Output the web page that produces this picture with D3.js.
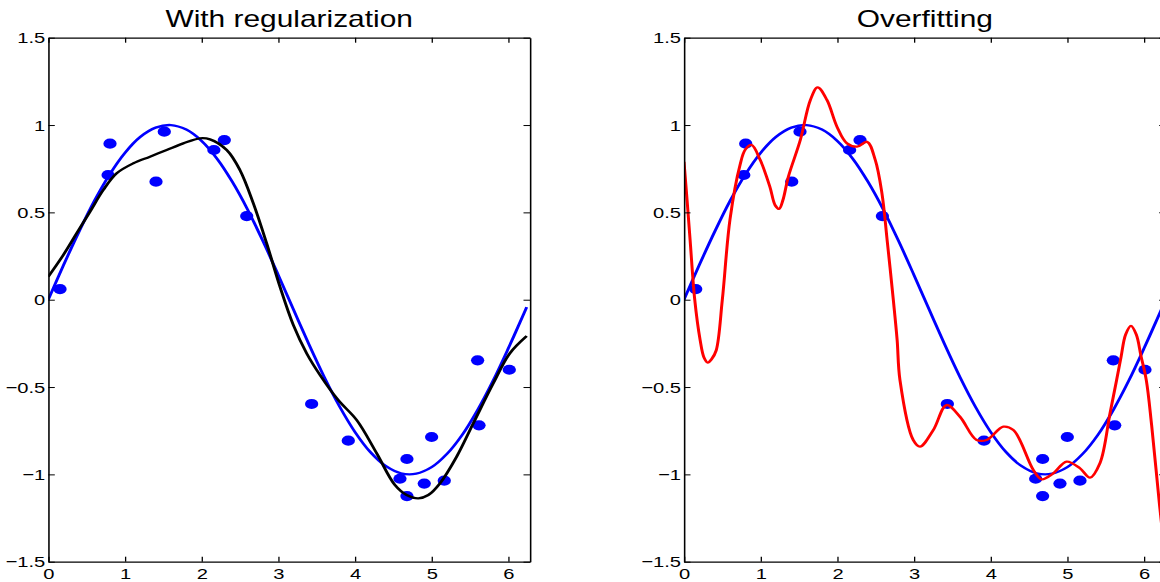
<!DOCTYPE html>
<html>
<head>
<meta charset="utf-8">
<script src="https://cdn.jsdelivr.net/npm/d3@7"></script>
<style>
  html, body { margin: 0; padding: 0; background: #fff; }
  svg { display: block; }
</style>
</head>
<body>
<svg id="chart" width="1160" height="582"></svg>
<script>
// ---------- data ----------
const xTicks = [0, 1, 2, 3, 4, 5, 6];
const xTickLabels = ["0", "1", "2", "3", "4", "5", "6"];
const yTicks = [-1.5, -1, -0.5, 0, 0.5, 1, 1.5];
const yTickLabels = ["\u22121.5", "\u22121", "\u22120.5", "0", "0.5", "1", "1.5"];
const titles = ["With regularization", "Overfitting"];

// noisy samples (blue dots)
const sampleX = [0.153, 0.78, 0.805, 1.405, 1.513, 2.16, 2.296, 2.588, 3.435, 3.913,
                 4.587, 4.678, 4.678, 4.904, 5.0, 5.165, 5.60, 5.618, 6.013];
const sampleY = [0.061, 0.714, 0.893, 0.676, 0.962, 0.857, 0.914, 0.479, -0.597, -0.807,
                 -1.025, -0.912, -1.124, -1.053, -0.786, -1.036, -0.347, -0.719, -0.401];

// true curve (blue line)
const trueX = [0, 0.2, 0.4, 0.6, 0.8, 1.0, 1.2, 1.4, 1.6, 1.8, 2.0, 2.2, 2.4, 2.6, 2.8, 3.0,
               3.2, 3.4, 3.6, 3.8, 4.0, 4.2, 4.4, 4.6, 4.8, 5.0, 5.2, 5.4, 5.6, 5.8, 6.0, 6.2, 6.24];
const trueY = [0, 0.199, 0.389, 0.565, 0.717, 0.841, 0.932, 0.985, 1.0, 0.974, 0.909, 0.808,
               0.675, 0.516, 0.335, 0.141, -0.058, -0.256, -0.443, -0.612, -0.757, -0.872,
               -0.952, -0.994, -0.996, -0.959, -0.883, -0.773, -0.631, -0.465, -0.279, -0.083, -0.043];

// regularized fit (black line)
const fitX = [0, 0.196, 0.37, 0.544, 0.717, 0.892, 1.109, 1.326, 1.544, 1.761, 1.979, 2.109,
              2.327, 2.5, 2.674, 2.848, 3.022, 3.196, 3.37, 3.544, 3.78, 4.022, 4.283, 4.52,
              4.674, 4.826, 4.957, 5.109, 5.326, 5.543, 5.804, 6.02, 6.24];
const fitY = [0.132, 0.256, 0.38, 0.504, 0.628, 0.724, 0.781, 0.819, 0.857, 0.895, 0.924, 0.918,
              0.857, 0.742, 0.552, 0.323, 0.074, -0.145, -0.307, -0.431, -0.574, -0.689, -0.879, -1.06,
              -1.118, -1.137, -1.118, -1.051, -0.899, -0.708, -0.479, -0.307, -0.208];

// overfit (red line)
const overX = [0, 0.04, 0.08, 0.14, 0.21, 0.26, 0.31, 0.36, 0.42, 0.5, 0.6, 0.73, 0.8, 0.88,
               0.994, 1.12, 1.19, 1.24, 1.29, 1.361, 1.517, 1.648, 1.743, 1.865, 1.996, 2.126,
               2.257, 2.387, 2.495, 2.582, 2.65, 2.73, 2.78, 2.817, 2.99, 3.078, 3.252, 3.426,
               3.6, 3.817, 3.948, 4.165, 4.296, 4.557, 4.665, 4.817, 4.991, 5.165, 5.296, 5.426,
               5.557, 5.643, 5.70, 5.76, 5.83, 5.90, 5.96, 6.03, 6.1, 6.205, 6.283];
const overY = [0.79, 0.57, 0.34, 0.0, -0.23, -0.33, -0.36, -0.34, -0.29, 0.0, 0.46, 0.77, 0.86,
               0.886, 0.80, 0.647, 0.54, 0.52, 0.57, 0.704, 0.914, 1.143, 1.216, 1.143, 0.99,
               0.895, 0.876, 0.904, 0.80, 0.609, 0.34, 0.0, -0.23, -0.46, -0.803, -0.841, -0.746,
               -0.603, -0.67, -0.803, -0.803, -0.727, -0.746, -0.975, -1.028, -0.994, -0.927,
               -0.965, -1.019, -0.936, -0.65, -0.46, -0.33, -0.2, -0.15, -0.2, -0.32, -0.46,
               -0.72, -1.185, -1.5];

// ---------- layout ----------
const SX = 1.3;                 // horizontal stretch of the whole figure
const FONT = "'Liberation Sans', Arial, Helvetica, sans-serif";
const plotTop = 37.7, plotBottom = 561.7;
const panels = [
  { x0: 48.3 / SX, x1: 530 / SX, title: titles[0],
    lines: [{ xs: trueX, ys: trueY, color: "#0000ff" }, { xs: fitX, ys: fitY, color: "#000000" }] },
  { x0: 684 / SX, x1: 1165.7 / SX, title: titles[1],
    lines: [{ xs: trueX, ys: trueY, color: "#0000ff" }, { xs: overX, ys: overY, color: "#ff0000" }] }
];

const svg = d3.select("#chart");
const root = svg.append("g").attr("transform", `scale(${SX},1)`);

const y = d3.scaleLinear().domain([-1.5, 1.5]).range([plotBottom, plotTop]);

panels.forEach((p, pi) => {
  const x = d3.scaleLinear().domain([0, 2 * Math.PI]).range([p.x0, p.x1]);
  const g = root.append("g");

  const clipId = "clip" + pi;
  g.append("clipPath").attr("id", clipId)
    .append("rect").attr("x", p.x0).attr("y", plotTop)
    .attr("width", p.x1 - p.x0).attr("height", plotBottom - plotTop);

  const plot = g.append("g").attr("clip-path", `url(#${clipId})`);

  // samples
  plot.selectAll("circle").data(sampleX.map((v, i) => [v, sampleY[i]]))
    .join("circle")
    .attr("cx", d => x(d[0])).attr("cy", d => y(d[1])).attr("r", 5.1)
    .attr("fill", "#0000ff");

  // curves
  const line = d3.line().x(d => x(d[0])).y(d => y(d[1])).curve(d3.curveCatmullRom.alpha(0.5));
  p.lines.forEach(l => {
    plot.append("path")
      .datum(l.xs.map((v, i) => [v, l.ys[i]]))
      .attr("d", line)
      .attr("fill", "none")
      .attr("stroke", l.color)
      .attr("stroke-width", 2.3)
      .attr("stroke-linejoin", "round");
  });

  // axes (MATLAB box with inward ticks)
  const axB = g.append("g").attr("transform", `translate(0,${plotBottom})`)
    .call(d3.axisBottom(x).tickValues(xTicks).tickFormat((d, i) => xTickLabels[i])
      .tickSizeInner(-5).tickSizeOuter(0).tickPadding(6));
  const axT = g.append("g").attr("transform", `translate(0,${plotTop})`)
    .call(d3.axisTop(x).tickValues(xTicks).tickFormat("")
      .tickSizeInner(-5).tickSizeOuter(0));
  const axL = g.append("g").attr("transform", `translate(${p.x0},0)`)
    .call(d3.axisLeft(y).tickValues(yTicks).tickFormat((d, i) => yTickLabels[i])
      .tickSizeInner(-5).tickSizeOuter(0).tickPadding(2.3));
  const axR = g.append("g").attr("transform", `translate(${p.x1},0)`)
    .call(d3.axisRight(y).tickValues(yTicks).tickFormat("")
      .tickSizeInner(-5).tickSizeOuter(0));

  [axB, axT, axL, axR].forEach(a => {
    a.attr("font-family", FONT).attr("font-size", 15.5);
    a.select(".domain").attr("stroke", "#000").attr("stroke-width", 1.2);
    a.selectAll(".tick line").attr("stroke", "#000").attr("stroke-width", 1);
    a.selectAll(".tick text").attr("fill", "#000");
  });

  // title
  g.append("text")
    .attr("x", (p.x0 + p.x1) / 2).attr("y", 26.7)
    .attr("text-anchor", "middle")
    .attr("font-family", FONT).attr("font-size", 23)
    .attr("fill", "#000")
    .text(p.title);
});
</script>
</body>
</html>
